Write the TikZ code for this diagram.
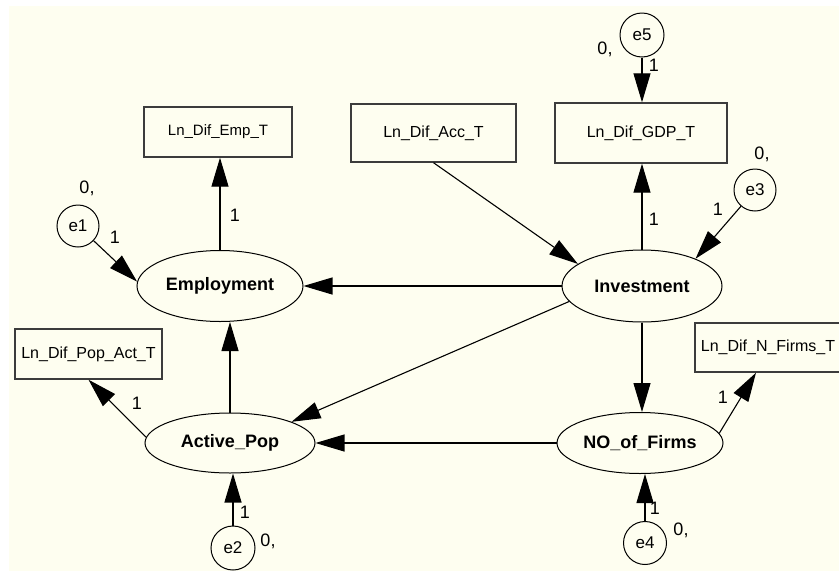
\documentclass[tikz,border=0pt]{standalone}
\usepackage{fontspec}
\setmainfont{Liberation Sans}
\usetikzlibrary{shapes.geometric,arrows.meta}
\definecolor{cream}{RGB}{254,254,240}
\definecolor{boxline}{RGB}{60,60,60}
\tikzset{
  obs/.style={draw=boxline, line width=1.4pt, rectangle, inner sep=0pt, font=\fontsize{16}{19}\selectfont},
  lat/.style={draw=black, line width=1pt, ellipse, inner sep=0pt, font=\fontsize{18}{21}\selectfont\bfseries},
  err/.style={draw=black, line width=1pt, circle, inner sep=0pt, minimum size=43pt, font=\fontsize{17}{20}\selectfont},
  lbl/.style={inner sep=0pt, font=\fontsize{18}{21}\selectfont},
  path/.style={line width=1.1pt, -{Triangle[length=29pt,width=17pt]}}
}
\begin{document}
\begin{tikzpicture}[x=1pt,y=-1pt]
\useasboundingbox (0,0) rectangle (839,571);
\fill[cream] (9,6) rectangle (839,571);
% observed
\node[obs, minimum width=148pt, minimum height=50pt, font=\fontsize{15}{18}\selectfont] (EmpBox) at (218,132) {Ln\_Dif\_Emp\_T};
\node[obs, minimum width=165pt, minimum height=58pt] (AccBox) at (433.5,133) {Ln\_Dif\_Acc\_T};
\node[obs, minimum width=172pt, minimum height=60pt] (GDPBox) at (641,133) {Ln\_Dif\_GDP\_T};
\node[obs, minimum width=147pt, minimum height=50pt] (PopBox) at (88.5,354) {Ln\_Dif\_Pop\_Act\_T};
\node[obs, minimum width=146pt, minimum height=49pt] (NFBox) at (768,347.5) {Ln\_Dif\_N\_Firms\_T};
% latent
\node[lat, minimum width=166pt, minimum height=71pt] (Emp) at (220,286) {Employment};
\node[lat, minimum width=160pt, minimum height=72pt] (Inv) at (642,286) {Investment};
\node[lat, minimum width=170pt, minimum height=60pt] (AP) at (230,443) {Active\_Pop};
\node[lat, minimum width=166pt, minimum height=61pt] (NF) at (640,443) {NO\_of\_Firms};
% errors
\node[err, minimum size=42pt] (e1) at (78,226) {e1};
\node[err, minimum size=44pt] (e5) at (642,35) {e5};
\node[err, minimum size=42pt] (e3) at (755,190) {e3};
\node[err, minimum size=44pt] (e2) at (233,548) {e2};
\node[err] (e4) at (645,543) {e4};
% paths
\draw[path] (Emp.north) -- (Emp.north |- EmpBox.south);
\draw[path] (Inv.west) -- (Emp.east);
\draw[path] (Inv.north) -- (Inv.north |- GDPBox.south);
\draw[path] (e5.south) -- (e5.south |- GDPBox.north);
\draw[path] (e3) -- (Inv.27);
\draw[path] (AccBox.south) -- (Inv.161);
\draw[path] (e1) -- (Emp.177);
\draw[path] (Inv.192) -- (AP.19);
\draw[path] (Inv.south) -- (Inv.south |- NF.north);
\draw[path] (NF.west) -- (AP.east);
\draw[path] (NF.7) -- ([xshift=-12pt]NFBox.south);
\draw[path] (AP.north) -- (AP.north |- Emp.south);
\draw[path] (AP.176) -- (PopBox.south);
\draw[path] (e2.north) -- (e2.north |- AP.south);
\draw[path] (e4.north) -- (e4.north |- NF.south);
% labels
\node[lbl] (l1) at (87,188) {0,};
\node[lbl] (l2) at (115,237) {1};
\node[lbl] (l3) at (235,215) {1};
\node[lbl] (l4) at (605,49) {0,};
\node[lbl] (l5) at (654,65) {1};
\node[lbl] (l6) at (762,154) {0,};
\node[lbl] (l7) at (718,209) {1};
\node[lbl] (l8) at (654,219) {1};
\node[lbl] (l9) at (137,403) {1};
\node[lbl] (l10) at (245,512) {1};
\node[lbl] (l11) at (268,541) {0,};
\node[lbl] (l12) at (723,397) {1};
\node[lbl] (l13) at (655,508) {1};
\node[lbl] (l14) at (681,530) {0,};
\end{tikzpicture}
\end{document}
